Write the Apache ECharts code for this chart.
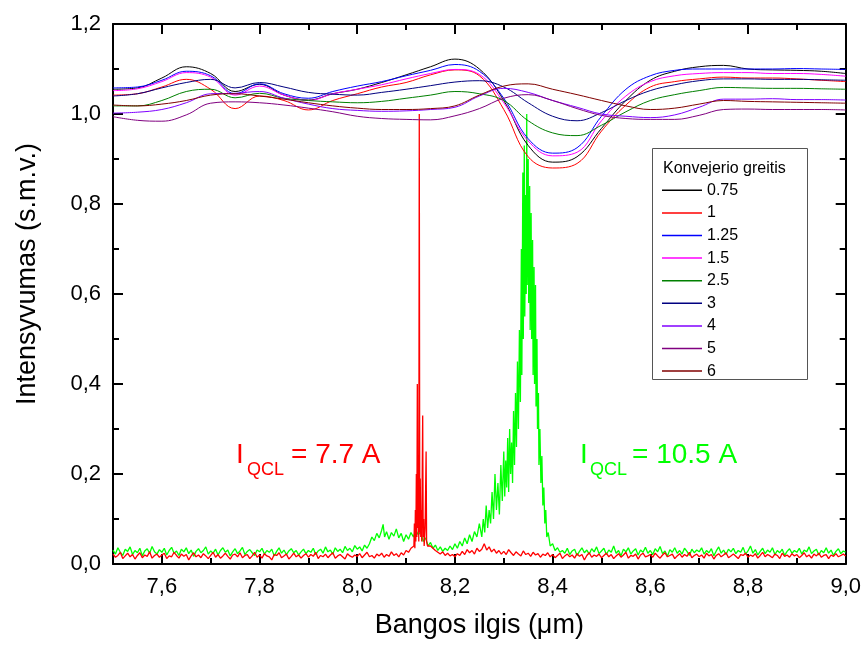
<!DOCTYPE html>
<html><head><meta charset="utf-8">
<script src="https://cdn.jsdelivr.net/npm/echarts@6/dist/echarts.min.js"></script>
<style>html,body{margin:0;padding:0;background:#fff}#c{width:864px;height:646px}</style>
</head><body><div id="c"></div>
<script>
// ---- smooth transmission curves (conveyor speed) ----
const wavelength = [7.50,7.55,7.60,7.65,7.70,7.75,7.80,7.85,7.90,7.95,8.00,8.05,8.10,8.15,8.20,8.25,8.30,8.35,8.40,8.45,8.50,8.55,8.60,8.65,8.70,8.75,8.80,8.85,8.90,8.95,9.00];
const speedNames = ['0.75','1','1.25','1.5','2.5','3','4','5','6'];
const curve075 = [1.055,1.058,1.080,1.105,1.090,1.050,1.066,1.042,1.031,1.045,1.055,1.070,1.087,1.105,1.122,1.100,1.030,0.930,0.893,0.905,0.968,1.030,1.075,1.095,1.105,1.108,1.100,1.098,1.097,1.095,1.090];
const curve1   = [1.042,1.045,1.060,1.077,1.055,1.012,1.040,1.030,1.009,1.030,1.045,1.060,1.070,1.087,1.098,1.085,1.010,0.905,0.880,0.890,0.962,1.020,1.060,1.072,1.078,1.082,1.080,1.080,1.078,1.075,1.072];
const curve125 = [1.058,1.060,1.075,1.095,1.085,1.045,1.067,1.045,1.035,1.050,1.062,1.072,1.085,1.097,1.110,1.095,1.035,0.945,0.913,0.925,0.995,1.055,1.085,1.097,1.100,1.100,1.100,1.100,1.101,1.100,1.099];
const curve15  = [1.052,1.056,1.072,1.092,1.082,1.042,1.062,1.042,1.030,1.045,1.055,1.065,1.078,1.090,1.099,1.088,1.025,0.940,0.907,0.915,0.985,1.040,1.072,1.085,1.090,1.092,1.092,1.090,1.090,1.088,1.084];
const curve25  = [1.018,1.018,1.030,1.050,1.055,1.036,1.046,1.035,1.030,1.027,1.025,1.028,1.035,1.042,1.050,1.045,1.030,0.985,0.958,0.952,0.975,1.005,1.030,1.043,1.052,1.059,1.058,1.057,1.057,1.056,1.055];
const curve3   = [1.040,1.045,1.058,1.070,1.077,1.058,1.070,1.060,1.048,1.044,1.042,1.048,1.055,1.063,1.071,1.074,1.060,1.025,0.995,0.985,1.003,1.030,1.052,1.065,1.074,1.078,1.078,1.077,1.077,1.076,1.075];
const curve4   = [1.002,1.004,1.010,1.025,1.045,1.046,1.050,1.035,1.022,1.012,1.008,1.006,1.007,1.010,1.015,1.040,1.057,1.048,1.030,1.015,1.000,0.995,0.992,0.998,1.015,1.033,1.033,1.034,1.032,1.032,1.031];
const curve5   = [0.994,0.986,0.984,0.998,1.024,1.027,1.025,1.020,1.013,1.005,0.995,0.990,0.988,0.987,0.996,1.012,1.035,1.043,1.030,1.012,0.997,0.990,0.988,0.988,0.997,1.010,1.011,1.010,1.010,1.010,1.009];
const curve6   = [1.020,1.018,1.022,1.030,1.042,1.045,1.040,1.033,1.025,1.018,1.013,1.010,1.010,1.012,1.018,1.042,1.062,1.067,1.055,1.043,1.030,1.018,1.010,1.013,1.022,1.030,1.028,1.027,1.026,1.025,1.024];
const curves = [curve075,curve1,curve125,curve15,curve25,curve3,curve4,curve5,curve6];

// ---- QCL emission spectra ----
const spectrumStep = 0.005;
const redSeg1Start = 7.5;
const redSeg1 = [
0.022,0.015,0.019,0.026,0.012,0.018,0.024,0.016,0.021,0.011,0.019,0.025,0.014,0.02,0.017,0.027,0.013,0.019,0.022,0.015,
0.02,0.024,0.012,0.018,0.016,0.026,0.019,0.013,0.022,0.017,0.021,0.009,0.018,0.025,0.016,0.02,0.014,0.023,0.018,0.012,
0.019,0.026,0.015,0.021,0.013,0.018,0.024,0.017,0.011,0.02,0.022,0.016,0.025,0.014,0.019,0.021,0.012,0.018,0.026,0.015,
0.02,0.013,0.023,0.018,0.016,0.009,0.021,0.019,0.025,0.014,0.018,0.022,0.011,0.017,0.024,0.016,0.02,0.013,0.019,0.023,
0.015,0.021,0.017,0.026,0.012,0.019,0.016,0.022,0.014,0.02,0.025,0.013,0.018,0.021,0.016,0.011,0.023,0.018,0.015,0.02,
0.017,0.023,0.014,0.02,0.026,0.016,0.019,0.013,0.022,0.018,0.024,0.015,0.021,0.017,0.027,0.019,0.023,0.016,0.025,0.02,
0.03,0.026,0.035];
const redPeak = [[8.116,0.04],[8.117,0.09],[8.118,0.035],[8.119,0.12],[8.120,0.05],[8.121,0.2],[8.122,0.06],[8.123,0.40],[8.124,0.08],[8.125,0.15],[8.126,0.05],[8.127,1.0],[8.128,0.07],[8.129,0.19],[8.130,0.06],[8.131,0.12],[8.132,0.05],[8.134,0.33],[8.135,0.06],[8.136,0.1],[8.137,0.04],[8.139,0.08],[8.141,0.25],[8.142,0.05],[8.144,0.04]];
const redSeg2Start = 8.15;
const redSeg2 = [
0.04,0.035,0.03,0.026,0.022,0.027,0.019,0.024,0.018,0.021,
0.016,0.023,0.019,0.028,0.021,0.032,0.025,0.03,0.022,0.035,0.028,0.033,0.045,0.031,0.038,0.027,0.033,0.024,0.03,0.022,
0.028,0.021,0.032,0.025,0.019,0.027,0.022,0.018,0.029,0.021,0.024,0.017,0.026,0.02,0.023,0.015,0.022,0.019,0.025,0.016,
0.021,0.014,0.019,0.024,0.012,0.018,0.022,0.016,0.02,0.013,0.023,0.017,0.021,0.009,0.019,0.025,0.015,0.02,0.017,0.022,
0.014,0.019,0.024,0.016,0.021,0.012,0.018,0.023,0.015,0.02,0.026,0.013,0.019,0.017,0.022,0.011,0.02,0.024,0.016,0.018,
0.021,0.015,0.024,0.018,0.013,0.02,0.025,0.016,0.019,0.022,0.012,0.018,0.023,0.015,0.021,0.017,0.026,0.014,0.019,0.022,
0.016,0.02,0.013,0.024,0.018,0.021,0.011,0.019,0.023,0.016,0.02,0.025,0.014,0.018,0.022,0.017,0.012,0.021,0.019,0.024,
0.015,0.02,0.017,0.023,0.013,0.019,0.026,0.016,0.021,0.018,0.014,0.022,0.019,0.012,0.024,0.017,0.02,0.015,0.023,0.018,
0.021,0.014,0.019,0.025,0.016,0.02,0.013,0.022,0.018,0.024,0.015,0.019,0.021,0.012,0.02,0.017,0.023,0.016,0.019,0.022,
0.018];

const greenSeg1Start = 7.5;
const greenSeg1 = [
0.031,0.022,0.036,0.026,0.019,0.033,0.028,0.038,0.021,0.03,0.025,0.035,0.018,0.029,0.034,0.024,0.039,0.027,0.022,0.032,
0.026,0.035,0.02,0.03,0.037,0.024,0.029,0.019,0.033,0.027,0.036,0.023,0.031,0.017,0.028,0.034,0.025,0.03,0.038,0.022,
0.029,0.024,0.033,0.02,0.03,0.036,0.026,0.031,0.018,0.027,0.034,0.023,0.029,0.037,0.021,0.028,0.032,0.025,0.019,0.031,
0.027,0.035,0.022,0.03,0.026,0.033,0.018,0.028,0.036,0.024,0.031,0.021,0.029,0.034,0.025,0.03,0.02,0.027,0.033,0.023,
0.03,0.026,0.035,0.021,0.029,0.033,0.024,0.038,0.027,0.031,0.022,0.036,0.028,0.033,0.025,0.039,0.03,0.035,0.027,0.041,
0.033,0.038,0.029,0.042,0.035];
const greenPeak = [[8.025,0.045],[8.03,0.06],[8.035,0.052],[8.04,0.068],[8.045,0.058],[8.05,0.075],[8.053,0.088],[8.056,0.06],[8.06,0.072],[8.065,0.055],[8.07,0.07],[8.075,0.062],[8.08,0.078],[8.085,0.058],[8.09,0.068],[8.095,0.05],[8.1,0.065],[8.105,0.055],[8.11,0.07],[8.115,0.06],[8.12,0.075],[8.125,0.065],[8.13,0.072],[8.135,0.05],[8.14,0.058],[8.145,0.04],[8.15,0.048],[8.155,0.035],[8.16,0.042],[8.165,0.03],[8.17,0.038],[8.175,0.028],[8.18,0.035],[8.185,0.03],[8.19,0.04],[8.195,0.032],[8.2,0.045],[8.205,0.035],[8.21,0.05],[8.215,0.04],[8.22,0.058],[8.225,0.045],[8.23,0.065],[8.235,0.05],[8.24,0.072],[8.245,0.06],
[8.25,0.09],[8.255,0.06],[8.258,0.1],[8.261,0.07],[8.264,0.13],[8.267,0.08],[8.27,0.12],[8.273,0.09],[8.276,0.16],[8.279,0.1],[8.282,0.2],[8.285,0.12],[8.288,0.18],[8.291,0.11],[8.294,0.22],[8.297,0.14],[8.3,0.25],[8.302,0.15],[8.304,0.23],[8.306,0.17],[8.308,0.28],[8.31,0.16],[8.312,0.3],[8.314,0.2],[8.316,0.27],[8.318,0.18],[8.32,0.34],[8.322,0.22],[8.324,0.38],[8.326,0.26],[8.328,0.45],[8.33,0.3],[8.332,0.52],[8.334,0.36],[8.336,0.7],[8.337,0.42],[8.339,0.87],[8.34,0.5],[8.342,0.93],[8.343,0.55],[8.345,0.82],[8.346,0.6],[8.347,1.0],[8.348,0.62],[8.35,0.9],[8.351,0.58],[8.353,0.84],[8.354,0.52],[8.356,0.78],[8.357,0.5],[8.359,0.72],[8.36,0.42],[8.362,0.66],[8.363,0.4],[8.365,0.62],[8.366,0.35],[8.368,0.5],[8.369,0.3],[8.371,0.38],[8.372,0.22],[8.374,0.3],[8.376,0.18],[8.378,0.24],[8.38,0.13],[8.382,0.17],[8.384,0.09],[8.386,0.12],[8.388,0.06],[8.391,0.07],[8.395,0.04],[8.4,0.045],[8.405,0.03],[8.41,0.036],[8.415,0.026]];
const greenSeg2Start = 8.42;
const greenSeg2 = [
0.03,0.024,0.035,0.021,0.029,0.033,0.019,0.028,0.036,0.025,0.031,0.022,0.034,0.027,0.038,0.023,
0.029,0.035,0.021,0.031,0.026,0.04,0.024,0.03,0.018,0.033,0.027,0.036,0.022,0.029,0.034,0.02,0.031,0.026,0.037,0.024,
0.03,0.021,0.034,0.027,0.039,0.023,0.029,0.017,0.032,0.026,0.036,0.024,0.03,0.022,0.035,0.028,0.019,0.033,0.025,0.031,
0.027,0.036,0.022,0.03,0.025,0.034,0.018,0.029,0.038,0.024,0.031,0.021,0.033,0.027,0.035,0.023,0.03,0.026,0.037,0.022,
0.029,0.04,0.024,0.032,0.02,0.028,0.035,0.023,0.031,0.026,0.036,0.021,0.03,0.025,0.033,0.019,0.028,0.034,0.024,0.03,
0.026,0.035,0.022,0.031,0.027,0.038,0.023,0.029,0.033,0.02,0.03,0.025,0.036,0.024,0.031,0.019,0.028,0.034,0.023,0.029,
0.026];

// ---- axis ticks / labels ----
const xMajorTicks = [7.6,7.8,8.0,8.2,8.4,8.6,8.8,9.0];
const xMinorTicks = [7.5,7.7,7.9,8.1,8.3,8.5,8.7,8.9];

// ---- styles ----
const FONT = 'Liberation Sans, Arial, sans-serif';
const curveColors = ['#000000','#ff0000','#0000ff','#ff00ff','#008000','#000080','#8000ff','#800080','#800000'];

function seg(start, vals) { return vals.map((v, i) => [+(start + i * spectrumStep).toFixed(3), v]); }
const redData = seg(redSeg1Start, redSeg1).concat(redPeak, seg(redSeg2Start, redSeg2));
const greenData = seg(greenSeg1Start, greenSeg1).concat(greenPeak, seg(greenSeg2Start, greenSeg2));
const fmt = v => v.toFixed(1).replace('.', ',');

const chart = echarts.init(document.getElementById('c'), null, {renderer: 'canvas'});
const axisLineStyle = {color: '#000', width: 2};
const series = [
  {name: 'I10.5', type: 'line', data: greenData, showSymbol: false, symbol: 'none', sampling: 'none', lineStyle: {width: 1.3, color: '#00ff00'}, color: '#00ff00', z: 2, silent: true},
  {name: 'I7.7', type: 'line', data: redData, showSymbol: false, symbol: 'none', sampling: 'none', lineStyle: {width: 1.3, color: '#ff0000'}, color: '#ff0000', z: 2, silent: true}
];
speedNames.forEach((n, k) => {
  series.push({name: n, type: 'line', smooth: 0.4, showSymbol: false, symbol: 'none',
    data: wavelength.map((x, i) => [x, curves[k][i]]),
    color: curveColors[k], lineStyle: {width: 1, color: curveColors[k]}, z: 3});
});

chart.setOption({
  animation: false,
  backgroundColor: '#fff',
  grid: {left: 113, right: 18, top: 24, bottom: 82},
  xAxis: [
    {type: 'value', min: 7.5, max: 9.0, position: 'bottom',
     axisLine: {show: true, lineStyle: axisLineStyle},
     axisTick: {show: true, inside: true, length: 10, customValues: xMajorTicks, lineStyle: axisLineStyle},
     axisLabel: {customValues: xMajorTicks, formatter: fmt, fontSize: 22, color: '#000', fontFamily: FONT, margin: 12},
     splitLine: {show: false},
     name: 'Bangos ilgis (\u03bcm)', nameLocation: 'middle', nameGap: 48,
     nameTextStyle: {fontSize: 27, color: '#000', fontFamily: FONT}},
    {type: 'value', min: 7.5, max: 9.0, position: 'bottom',
     axisLine: {show: false},
     axisTick: {show: true, inside: true, length: 6, customValues: xMinorTicks, lineStyle: axisLineStyle},
     axisLabel: {show: false}, splitLine: {show: false}},
    {type: 'value', min: 7.5, max: 9.0, position: 'top',
     axisLine: {show: true, lineStyle: axisLineStyle},
     axisTick: {show: true, inside: true, length: 10, customValues: xMajorTicks, lineStyle: axisLineStyle},
     axisLabel: {show: false}, splitLine: {show: false}},
    {type: 'value', min: 7.5, max: 9.0, position: 'top',
     axisLine: {show: false},
     axisTick: {show: true, inside: true, length: 6, customValues: xMinorTicks, lineStyle: axisLineStyle},
     axisLabel: {show: false}, splitLine: {show: false}}
  ],
  yAxis: [
    {type: 'value', min: 0, max: 1.2, interval: 0.2, position: 'left',
     axisLine: {show: true, lineStyle: axisLineStyle},
     axisTick: {show: true, inside: true, length: 10, lineStyle: axisLineStyle},
     minorTick: {show: true, splitNumber: 2, length: 6, lineStyle: {color: '#000', width: 2}},
     axisLabel: {formatter: fmt, fontSize: 22, color: '#000', fontFamily: FONT, margin: 12},
     splitLine: {show: false}, minorSplitLine: {show: false}},
    {type: 'value', min: 0, max: 1.2, interval: 0.2, position: 'right',
     axisLine: {show: true, lineStyle: axisLineStyle},
     axisTick: {show: true, inside: true, length: 10, lineStyle: axisLineStyle},
     minorTick: {show: true, splitNumber: 2, length: 6, lineStyle: {color: '#000', width: 2}},
     axisLabel: {show: false}, splitLine: {show: false}, minorSplitLine: {show: false}}
  ],
  legend: {
    data: speedNames, orient: 'vertical', left: 662, top: 179, padding: 0, itemGap: 0,
    icon: 'rect', itemWidth: 40, itemHeight: 1.5,
    textStyle: {fontSize: 16, color: '#000', fontFamily: FONT, lineHeight: 22.6},
    selectedMode: false, z: 10
  },
  graphic: [
    {type: 'rect', shape: {x: 652.5, y: 148.5, width: 155, height: 231}, style: {fill: '#fff', stroke: '#555', lineWidth: 1}, z: 5},
    {type: 'text', x: 663, y: 169, style: {text: 'Konvejerio greitis', font: '16px ' + FONT, fill: '#000', textAlign: 'left', textVerticalAlign: 'middle'}, z: 10},
    {type: 'text', x: 28, y: 274, rotation: Math.PI / 2, style: {text: 'Intensyvumas (s.m.v.)', font: '27px ' + FONT, fill: '#000', textAlign: 'center', textVerticalAlign: 'middle'}, z: 10},
    {type: 'text', x: 236, y: 455, style: {text: 'I', font: '28px ' + FONT, fill: '#ff0000', textAlign: 'left', textVerticalAlign: 'middle'}, z: 10},
    {type: 'text', x: 247, y: 470, style: {text: 'QCL', font: '18px ' + FONT, fill: '#ff0000', textAlign: 'left', textVerticalAlign: 'middle'}, z: 10},
    {type: 'text', x: 291, y: 455, style: {text: '= 7.7 A', font: '28px ' + FONT, fill: '#ff0000', textAlign: 'left', textVerticalAlign: 'middle'}, z: 10},
    {type: 'text', x: 580, y: 455, style: {text: 'I', font: '28px ' + FONT, fill: '#00ff00', textAlign: 'left', textVerticalAlign: 'middle'}, z: 10},
    {type: 'text', x: 590, y: 470, style: {text: 'QCL', font: '18px ' + FONT, fill: '#00ff00', textAlign: 'left', textVerticalAlign: 'middle'}, z: 10},
    {type: 'text', x: 632, y: 455, style: {text: '= 10.5 A', font: '28px ' + FONT, fill: '#00ff00', textAlign: 'left', textVerticalAlign: 'middle'}, z: 10}
  ],
  series: series
});
</script>
</body></html>
